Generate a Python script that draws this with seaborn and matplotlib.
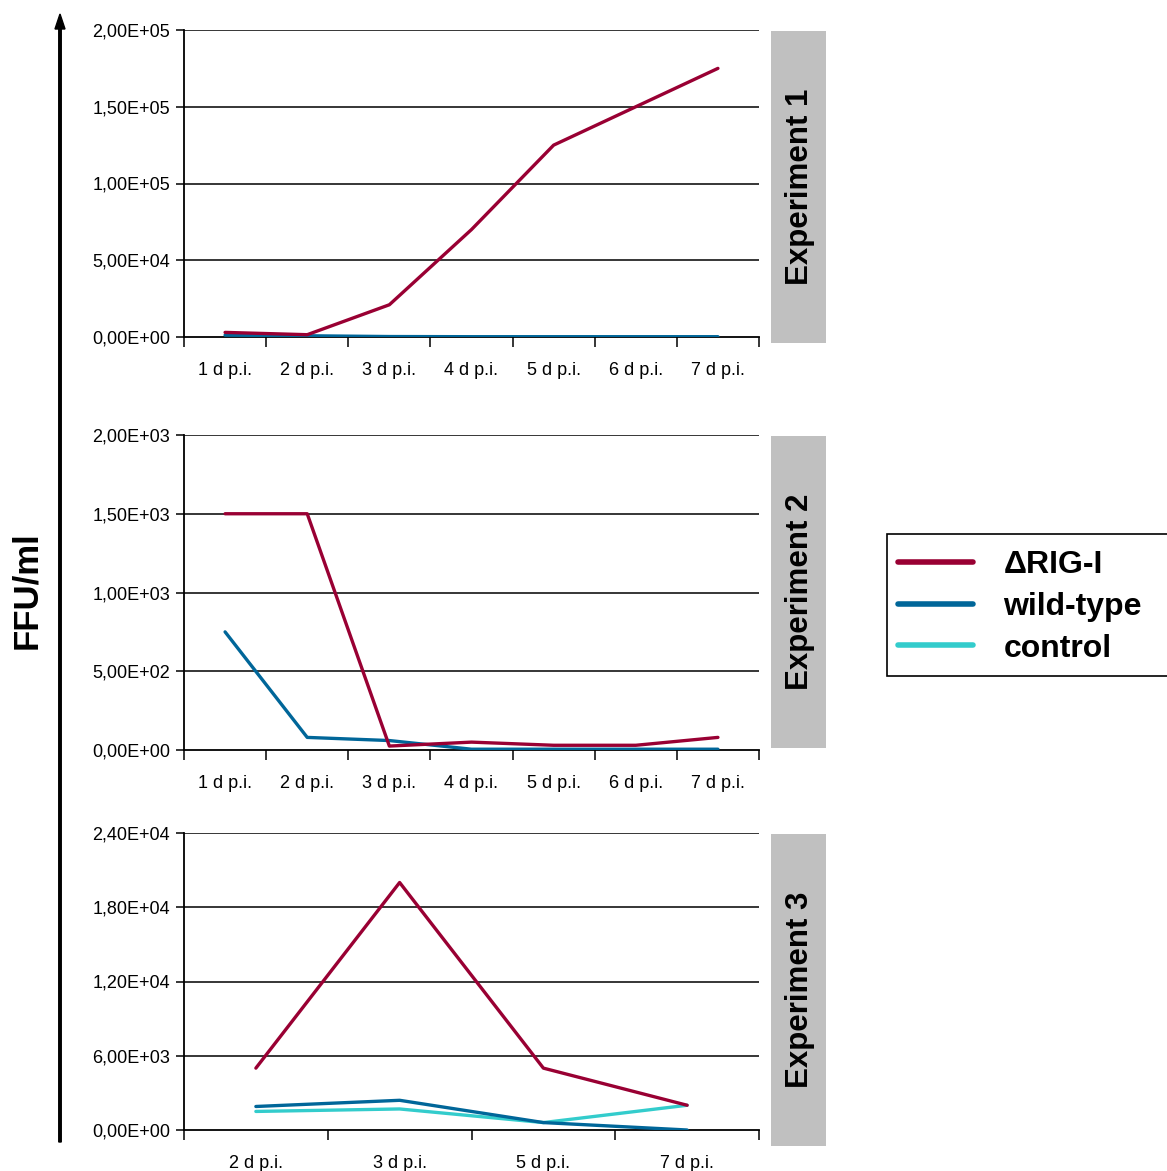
import matplotlib
matplotlib.use("Agg")
import matplotlib.pyplot as plt
from matplotlib.patches import Rectangle, FancyArrow
from matplotlib.lines import Line2D
from matplotlib.ticker import FixedLocator, FixedFormatter
import seaborn as sns
import pandas as pd

sns.set_theme(style="white")
plt.rcParams["font.family"] = ["Liberation Sans", "DejaVu Sans"]
plt.rcParams["text.color"] = "black"

# ---- data -------------------------------------------------------------
days_7 = ["1 d p.i.", "2 d p.i.", "3 d p.i.", "4 d p.i.", "5 d p.i.", "6 d p.i.", "7 d p.i."]
days_4 = ["2 d p.i.", "3 d p.i.", "5 d p.i.", "7 d p.i."]

exp1_rig = [3000, 1500, 21000, 70000, 125000, 150000, 175000]
exp1_wt = [1200, 800, 300, 200, 200, 200, 200]

exp2_rig = [1500, 1500, 25, 50, 30, 30, 80]
exp2_wt = [750, 80, 60, 5, 5, 5, 5]

exp3_rig = [5000, 20000, 5000, 2000]
exp3_wt = [1900, 2400, 600, 0]
exp3_ctrl = [1500, 1700, 600, 2000]

exp1_yticks = [0, 50000, 100000, 150000, 200000]
exp1_ylabels = ["0,00E+00", "5,00E+04", "1,00E+05", "1,50E+05", "2,00E+05"]
exp2_yticks = [0, 500, 1000, 1500, 2000]
exp2_ylabels = ["0,00E+00", "5,00E+02", "1,00E+03", "1,50E+03", "2,00E+03"]
exp3_yticks = [0, 6000, 12000, 18000, 24000]
exp3_ylabels = ["0,00E+00", "6,00E+03", "1,20E+04", "1,80E+04", "2,40E+04"]

series_names = ["\u0394RIG-I", "wild-type", "control"]
experiment_titles = ["Experiment 1", "Experiment 2", "Experiment 3"]
colors = {"\u0394RIG-I": "#990033", "wild-type": "#006699", "control": "#33CCCC"}

# ---- figure -----------------------------------------------------------
W, H = 1167, 1171
fig = plt.figure(figsize=(W / 100, H / 100), dpi=100)
fig.patch.set_facecolor("white")


def fx(px):
    return px / W


def fy(py):
    return 1 - py / H


panels = [
    dict(top=30, bottom=337, days=days_7,
         series={"\u0394RIG-I": exp1_rig, "wild-type": exp1_wt},
         yticks=exp1_yticks, ylabels=exp1_ylabels, box=(31, 343)),
    dict(top=435, bottom=750, days=days_7,
         series={"\u0394RIG-I": exp2_rig, "wild-type": exp2_wt},
         yticks=exp2_yticks, ylabels=exp2_ylabels, box=(436, 748)),
    dict(top=833, bottom=1130, days=days_4,
         series={"\u0394RIG-I": exp3_rig, "wild-type": exp3_wt, "control": exp3_ctrl},
         yticks=exp3_yticks, ylabels=exp3_ylabels, box=(834, 1146)),
]

left_px, right_px = 184, 759
for panel, title in zip(panels, experiment_titles):
    ax = fig.add_axes([fx(left_px), fy(panel["bottom"]),
                       fx(right_px - left_px), (panel["bottom"] - panel["top"]) / H])
    ax.set_facecolor("white")
    days = panel["days"]
    n = len(days)

    # horizontal gridlines at each value tick
    for yv in panel["yticks"][1:]:
        ax.axhline(yv, color="black", lw=1.1, zorder=1)

    # draw control first and ΔRIG-I last so ΔRIG-I sits on top
    for z, name in zip([4, 3, 2], series_names):
        if name not in panel["series"]:
            continue
        df = pd.DataFrame({"pos": range(n), "val": panel["series"][name]})
        sns.lineplot(data=df, x="pos", y="val", ax=ax, color=colors[name],
                     lw=2.4, zorder=z, legend=False)

    ax.set_xlim(-0.5, n - 0.5)
    ax.set_ylim(panel["yticks"][0], panel["yticks"][-1])
    ax.set_xlabel("")
    ax.set_ylabel("")

    ax.xaxis.set_major_locator(FixedLocator(list(range(n))))
    ax.xaxis.set_major_formatter(FixedFormatter(days))
    ax.xaxis.set_minor_locator(FixedLocator([k - 0.5 for k in range(n + 1)]))
    ax.tick_params(axis="x", which="major", length=0, pad=18, labelsize=13,
                   labelcolor="black")
    ax.tick_params(axis="x", which="minor", length=7, width=1.1, color="black",
                   direction="out", bottom=True)

    ax.yaxis.set_major_locator(FixedLocator(panel["yticks"]))
    ax.yaxis.set_major_formatter(FixedFormatter(panel["ylabels"]))
    ax.tick_params(axis="y", which="major", length=6, width=1.1, color="black",
                   direction="out", left=True, pad=4, labelsize=13, labelcolor="black")

    for side in ["top", "right"]:
        ax.spines[side].set_visible(False)
    for side in ["left", "bottom"]:
        ax.spines[side].set_visible(True)
        ax.spines[side].set_color("black")
        ax.spines[side].set_linewidth(1.3)

    # grey title strip on the right
    b_top, b_bot = panel["box"]
    fig.patches.append(Rectangle((fx(771), fy(b_bot)), fx(826 - 771), (b_bot - b_top) / H,
                                 transform=fig.transFigure, facecolor="#c0c0c0",
                                 edgecolor="none"))
    fig.text(fx(800), fy((b_top + b_bot) / 2), title, rotation=90, ha="center",
             va="center", fontsize=22.5, fontweight="bold", color="black")

# shared y-axis label with an upward arrow
fig.text(fx(27), fy(590), "FFU/ml", rotation=90, ha="center", va="center",
         fontsize=25, fontweight="bold", color="black")
fig.patches.append(FancyArrow(fx(60), fy(1142), 0, (1142 - 14) / H,
                              width=fx(2.5), head_width=fx(10), head_length=15 / H,
                              length_includes_head=True, transform=fig.transFigure,
                              color="black"))

# legend
fig.patches.append(Rectangle((fx(887), fy(676)), fx(290), (676 - 534) / H,
                             transform=fig.transFigure, facecolor="white",
                             edgecolor="black", linewidth=1.2))
handles = [Line2D([0], [0], color=colors[nm], lw=4) for nm in series_names]
leg = fig.legend(handles, series_names, loc="upper left",
                 bbox_to_anchor=(fx(898), fy(550)), frameon=False,
                 prop=dict(size=23, weight="bold"), handlelength=2.35,
                 handletextpad=0.95, labelspacing=0.37, borderaxespad=0,
                 borderpad=0.0)
for t in leg.get_texts():
    t.set_color("black")

fig.savefig("out.png", dpi=100, facecolor="white")
